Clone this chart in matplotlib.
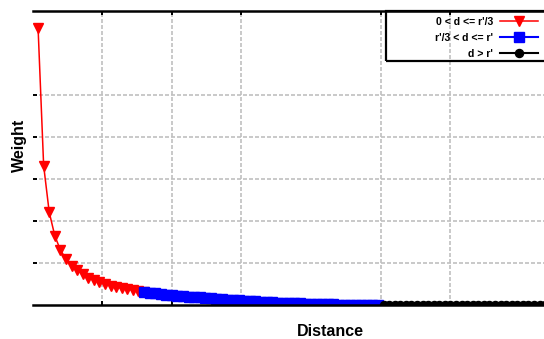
import matplotlib
matplotlib.use("Agg")
import matplotlib.pyplot as plt
from matplotlib.patches import Rectangle

plt.rcParams['font.family'] = ['Liberation Sans', 'DejaVu Sans']

# values
red_dist = [4, 8, 12, 16, 20, 24, 28, 32, 36, 40, 44, 48, 52, 56, 60, 64, 68, 72, 76, 80]
red_weight = [0.660, 0.332, 0.221, 0.165, 0.131, 0.110, 0.094, 0.083, 0.073, 0.065,
              0.059, 0.054, 0.050, 0.046, 0.043, 0.040, 0.038, 0.036, 0.034, 0.032]

blue_dist = [80, 84, 88, 92, 96, 100, 104, 108, 112, 116, 120, 124, 128, 132, 136,
             140, 144, 148, 152, 156, 160, 164, 168, 172, 176, 180, 184, 188, 192,
             196, 200, 204, 208, 212, 216, 220, 224, 228, 232, 236, 240, 244, 248]
blue_weight = [0.031, 0.029, 0.028, 0.026, 0.024, 0.023, 0.022, 0.021, 0.020, 0.019,
               0.018, 0.017, 0.016, 0.015, 0.014, 0.013, 0.012, 0.011, 0.0105, 0.0098,
               0.0090, 0.0080, 0.0070, 0.0064, 0.0058, 0.0052, 0.0046, 0.0041, 0.0036,
               0.0032, 0.0028, 0.0024, 0.0020, 0.0017, 0.0014, 0.0011, 0.0008, 0.0006,
               0.0004, 0.0003, 0.0002, 0.0001, 0.0]

black_dist = [252, 256, 260, 264, 268, 272, 276, 280, 284, 288, 292, 296, 300, 304,
              308, 312, 316, 320, 324, 328, 332, 336, 340, 344, 348, 352, 356, 360,
              364, 368, 372]
black_weight = [0.0] * len(black_dist)

x_ticks = [50, 100, 150, 250, 300]
y_ticks = [0.1, 0.2, 0.3, 0.4, 0.5]
series_labels = ["0 < d <= r'/3", "r'/3 < d <= r'", "d > r'"]

W, H = 544, 339
fig = plt.figure(figsize=(W / 100, H / 100), dpi=100)
ax = fig.add_axes([32.5 / W, 34 / H, (W - 32.5) / W, 294 / H])

l1, = ax.plot(red_dist, red_weight, color='#ff0000', lw=1.1, marker='v', ms=6.5,
              label=series_labels[0])
l2, = ax.plot(blue_dist, blue_weight, color='#0000ff', lw=1.5, marker='s', ms=6.5,
              label=series_labels[1])
l3, = ax.plot(black_dist, black_weight, color='black', lw=1.5, marker='o', ms=5.8,
              label=series_labels[2])

ax.set_xlim(0, (W - 32.5) / 1.393)
ax.set_ylim(0, 0.7)
ax.set_xticks(x_ticks)
ax.set_yticks(y_ticks)
ax.set_xticklabels([])
ax.set_yticklabels([])
ax.tick_params(direction='in', length=2.9, width=1.4, top=True, bottom=True, left=True,
               right=False)
ax.grid(True, color='#c0c0c0', linestyle=(0, (2.4, 1.2)), linewidth=1.2)
ax.set_axisbelow(True)

for s in ['left', 'right']:
    ax.spines[s].set_visible(False)
for s in ['top', 'bottom']:
    ax.spines[s].set_linewidth(1.8)

fig.text(19 / W, 1 - 145 / H, 'Weight', rotation=90, ha='center', va='center',
         fontsize=11.5, fontweight='bold')
fig.text(330 / W, 1 - 336 / H, 'Distance', ha='center', va='baseline',
         fontsize=11.5, fontweight='bold')

# legend box
box = Rectangle((386 / W, 1 - 60.5 / H), 0.3, 49 / H, transform=fig.transFigure,
                fill=False, edgecolor='black', lw=1.6, clip_on=False)
fig.add_artist(box)
ax.legend(handles=[l1, l2, l3], loc='upper right', bbox_to_anchor=(538 / W, 1 - 17 / H),
          bbox_transform=fig.transFigure, borderpad=0, borderaxespad=0,
          handlelength=3.6, handletextpad=0.66, labelspacing=0.55, markerfirst=False,
          frameon=False, prop={'size': 7.6, 'weight': 'bold'})

fig.savefig('out.png', dpi=100)
